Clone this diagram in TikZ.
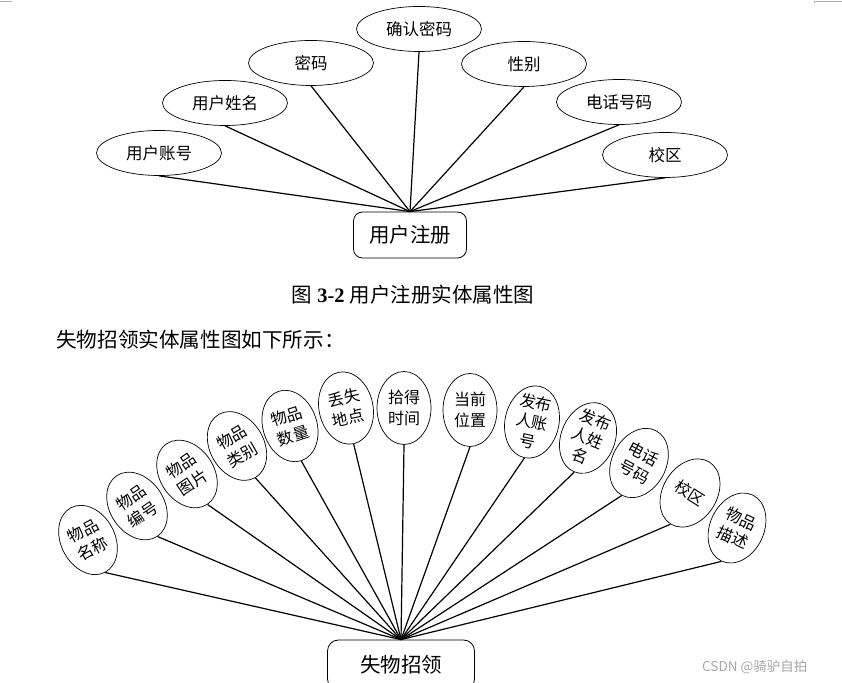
\documentclass[tikz,border=0pt]{standalone}
\usepackage{fontspec}
\setmainfont{Liberation Serif}
\newfontfamily\cjk{Noto Sans CJK SC}
\usetikzlibrary{shapes.geometric}
\definecolor{wmgray}{HTML}{A8A8A8}
\definecolor{margray}{HTML}{B0B0B0}
\begin{document}
\begin{tikzpicture}[x=1pt,y=1pt,
  attr/.style={ellipse, draw, line width=0.7pt, minimum width=125pt, minimum height=45pt, inner sep=0pt, font=\cjk\fontsize{16.5}{18}\selectfont},
  sattr/.style={ellipse, draw, line width=0.7pt, minimum width=54pt, minimum height=73pt, inner sep=-14pt, align=center, font=\cjk\fontsize{16}{20.5}\selectfont},
  ent/.style={draw, rounded corners=9pt, line width=0.8pt, inner sep=0pt, font=\cjk\fontsize{20.5}{22}\selectfont},
  link/.style={line width=1.2pt},
  mark/.style={draw=margray, line width=0.6pt}]
\useasboundingbox (0,0) rectangle (842,682);
% margin marks
\coordinate (ml1) at (0,681);
\coordinate (ml2) at (12,681);
\coordinate (mr1) at (814,681);
\coordinate (mr2) at (842,681);
\coordinate (mr3) at (814,679);
\draw[margray, line width=0.6pt] (ml1) -- (ml2);
\draw[margray, line width=0.6pt] (mr3) -- (mr1) -- (mr2);

% ---- top diagram ----
\node[ent, minimum width=113pt, minimum height=46pt] (reg) at (410,447) {用户注册};
\node[attr] (e1) at (159,529) {用户账号};
\node[attr] (e2) at (225,579) {用户姓名};
\node[attr] (e3) at (311,619) {密码};
\node[attr] (e4) at (419,653) {确认密码};
\node[attr] (e5) at (524,618) {性别};
\node[attr] (e6) at (619,580) {电话号码};
\node[attr] (e7) at (665,527) {校区};
\coordinate (h1) at (reg.north);
\foreach \e in {e1,e2,e3,e4,e5,e6,e7}
  \draw[link] (\e.south) -- (h1);

% captions
\node[font=\fontsize{20.5}{24}\selectfont] (cap) at (413,387) {{\cjk 图} \textbf{3-2} {\cjk 用户注册实体属性图}};
\node[anchor=west, font=\cjk\fontsize{20.6}{24}\selectfont, inner sep=0pt] (intro) at (56,342) {失物招领实体属性图如下所示：};

% ---- bottom diagram ----
\node[ent, minimum width=147pt, minimum height=50pt, rounded corners=11pt] (lost) at (401,17) {失物招领};
\coordinate (h2) at (lost.north);
\node[sattr, rotate=28]  (b1)  at (88,142)  {物品\\名称};
\node[sattr, rotate=34]  (b2)  at (137,176) {物品\\编号};
\node[sattr, rotate=34]  (b3)  at (187,208) {物品\\图片};
\node[sattr, rotate=30]  (b4)  at (237,236) {物品\\类别};
\node[sattr, rotate=18]  (b5)  at (290,256) {物品\\数量};
\node[sattr, rotate=12]  (b6)  at (346,274) {丢失\\地点};
\node[sattr]             (b7)  at (404,274) {拾得\\时间};
\node[sattr]             (b8)  at (470,272) {当前\\位置};
\node[sattr, rotate=-12, font=\cjk\fontsize{16}{19.5}\selectfont] (b9)  at (532,260) {发布\\人账\\号};
\node[sattr, rotate=-22, font=\cjk\fontsize{16}{19.5}\selectfont] (b10) at (588,244) {发布\\人姓\\名};
\node[sattr, rotate=-28] (b11) at (639,219) {电话\\号码};
\node[sattr, rotate=-32] (b12) at (690,189) {校区};
\node[sattr, rotate=-25] (b13) at (737,154) {物品\\描述};
\foreach \b in {b1,b2,b3,b4,b5,b6,b7,b8,b9,b10,b11,b12,b13}
  \draw[link] (\b.south) -- (h2);

% watermark
\node[anchor=west, font=\cjk\fontsize{13.5}{15}\selectfont, text=wmgray, inner sep=0pt] (wm) at (702,15) {CSDN @骑驴自拍};
\end{tikzpicture}
\end{document}
